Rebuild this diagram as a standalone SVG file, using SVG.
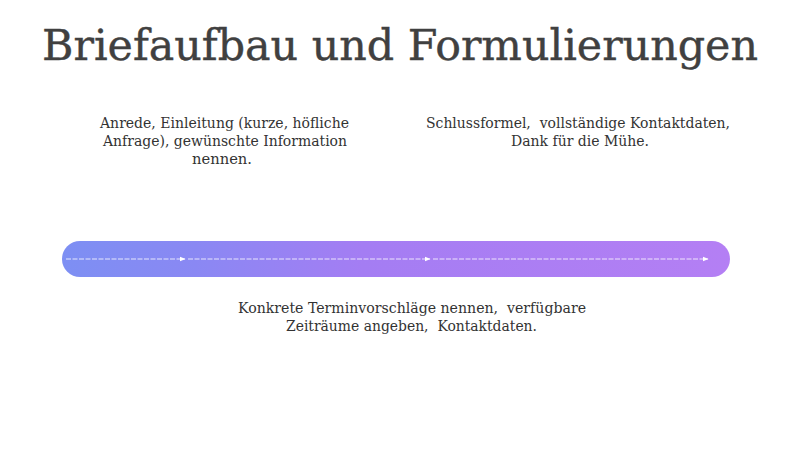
<svg xmlns="http://www.w3.org/2000/svg" width="800" height="449" viewBox="0 0 800 449">
<style>
.t{font-family:"DejaVu Serif","Liberation Serif",serif;fill:#333;font-size:14.5px;text-anchor:middle;white-space:pre}
.title{font-family:"DejaVu Serif","Liberation Serif",serif;fill:#404040;font-size:43px;text-anchor:middle;stroke:#404040;stroke-width:0.4}
.c{stroke:#fff;stroke-width:1.2;stroke-opacity:0.8;fill:none;stroke-dasharray:5 1.5}
</style>
<defs>
<linearGradient id="g" x1="0" y1="0" x2="1" y2="0">
<stop offset="0" stop-color="#7d8ff3"/>
<stop offset="0.2" stop-color="#8a88f3"/>
<stop offset="0.45" stop-color="#a47df3"/>
<stop offset="1" stop-color="#b47ff4"/>
</linearGradient>
<marker id="a" viewBox="0 0 10 10" refX="9" refY="5" markerWidth="6" markerHeight="6" orient="auto" markerUnits="userSpaceOnUse">
<path d="M0,1 L10,5 L0,9 Z" fill="#fff"/>
</marker>
</defs>
<rect width="800" height="449" fill="#fff"/>
<text class="title" x="400" y="60" textLength="716" lengthAdjust="spacingAndGlyphs">Briefaufbau und Formulierungen</text>
<g id="bar">
<rect x="62" y="241" width="668" height="36" rx="18" fill="url(#g)"/>
</g>
<g id="connectors">
<line class="c" x1="66" y1="259" x2="185" y2="259" marker-end="url(#a)"/>
<line class="c" x1="188" y1="259" x2="430" y2="259" marker-end="url(#a)"/>
<line class="c" x1="433" y1="259" x2="708" y2="259" marker-end="url(#a)"/>
</g>
<g id="node1">
<text class="t" x="224.5" y="128" textLength="249" lengthAdjust="spacingAndGlyphs">Anrede, Einleitung (kurze, höfliche</text>
<text class="t" x="225" y="146" textLength="244" lengthAdjust="spacingAndGlyphs">Anfrage), gewünschte Information</text>
<text class="t" x="222" y="164" textLength="60" lengthAdjust="spacingAndGlyphs">nennen.</text>
</g>
<g id="node2">
<text class="t" x="578" y="128" textLength="304" lengthAdjust="spacingAndGlyphs" xml:space="preserve">Schlussformel,  vollständige Kontaktdaten,</text>
<text class="t" x="580" y="146" textLength="138" lengthAdjust="spacingAndGlyphs">Dank für die Mühe.</text>
</g>
<g id="node3">
<text class="t" x="412" y="313" textLength="348" lengthAdjust="spacingAndGlyphs" xml:space="preserve">Konkrete Terminvorschläge nennen,  verfügbare</text>
<text class="t" x="411.5" y="331" textLength="251" lengthAdjust="spacingAndGlyphs" xml:space="preserve">Zeiträume angeben,  Kontaktdaten.</text>
</g>
</svg>
